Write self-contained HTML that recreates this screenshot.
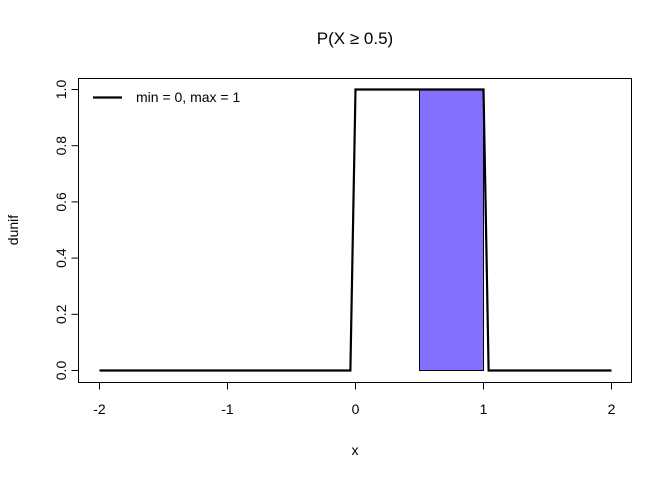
<!DOCTYPE html>
<html><head><meta charset="utf-8"><style>
body{margin:0;background:#fff}
svg text{font-family:"Liberation Sans",Arial,sans-serif;fill:#000}
</style></head><body>
<svg width="672" height="480" xmlns="http://www.w3.org/2000/svg">
<g id="root"></g>
</svg>
<script>
const xTicks=[-2,-1,0,1,2];
const xTickLabels=["-2","-1","0","1","2"];
const yTicks=[0,0.2,0.4,0.6,0.8,1.0];
const yTickLabels=["0.0","0.2","0.4","0.6","0.8","1.0"];
const curveX=[-2,-0.04,0,1,1.04,2];
const curveY=[0,0,1,1,0,0];
const shadeFrom=[0.5];
const shadeTo=[1];
const shadeHeight=[1];
const NS="http://www.w3.org/2000/svg";
const root=document.getElementById('root');
const sx=v=>355.5+v*128;
const sy=v=>370.5-v*281;
function mk(t,a,txt){const e=document.createElementNS(NS,t);for(const k in a)e.setAttribute(k,a[k]);if(txt!=null)e.textContent=txt;root.appendChild(e);return e;}
const sh=mk('rect',{x:sx(shadeFrom[0]),y:sy(shadeHeight[0]),width:sx(shadeTo[0])-sx(shadeFrom[0]),height:sy(0)-sy(shadeHeight[0]),fill:'#8470FF',stroke:'#000','stroke-width':1});


const pl=mk('polyline',{points:curveX.map((x,i)=>sx(x)+','+sy(curveY[i])).join(' '),fill:'none',stroke:'#000','stroke-width':2.2});


const bx=mk('rect',{x:78.5,y:78.5,width:553,height:304,fill:'none',stroke:'#000','stroke-width':1});


const xa=mk('line',{x1:sx(xTicks[0]),x2:sx(xTicks[xTicks.length-1]),y1:382.5,y2:382.5,stroke:'#000'});


xTicks.forEach((v,i)=>{
 const t=mk('line',{x1:sx(v),x2:sx(v),y1:382.5,y2:389.5,stroke:'#000'});
 
 
 const l=mk('text',{x:sx(v),y:414,'text-anchor':'middle','font-size':14},xTickLabels[i]);
 
 
});
const ya=mk('line',{x1:78.5,x2:78.5,y1:sy(yTicks[0]),y2:sy(yTicks[yTicks.length-1]),stroke:'#000'});


yTicks.forEach((v,i)=>{
 const t=mk('line',{x1:71.5,x2:78.5,y1:sy(v),y2:sy(v),stroke:'#000'});
 
 
 const l=mk('text',{x:66,y:sy(v),'text-anchor':'middle','font-size':14,transform:`rotate(-90 66 ${sy(v)})`},yTickLabels[i]);
 
 
});
const ti=mk('text',{x:355,y:44,'text-anchor':'middle','font-size':17},'P(X \u2265 0.5)');


const xl=mk('text',{x:355,y:455,'text-anchor':'middle','font-size':14},'x');


const yl=mk('text',{x:18,y:230,'text-anchor':'middle','font-size':14,transform:'rotate(-90 18 230)'},'dunif');


const lg=mk('line',{x1:93,x2:122,y1:97.5,y2:97.5,stroke:'#000','stroke-width':2.2});


const lt=mk('text',{x:136,y:102,'font-size':14},'min = 0, max = 1');


</script>
</body></html>
